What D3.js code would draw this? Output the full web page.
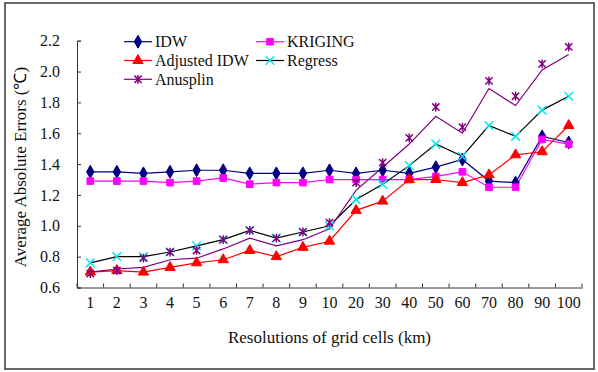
<!DOCTYPE html>
<html>
<head>
<meta charset="utf-8">
<script src="https://cdn.jsdelivr.net/npm/d3@7"></script>
<style>
  body { margin: 0; background: #fff; }
  text { font-family: "Liberation Serif", "Times New Roman", serif; fill: #111; }
</style>
</head>
<body>
<div id="chart"></div>
<script>
'use strict';

// grid resolutions (km)
const cats = ['1','2','3','4','5','6','7','8','9','10','20','30','40','50','60','70','80','90','100']

const idw      = [1.35,1.35,1.34,1.35,1.36,1.36,1.34,1.34,1.34,1.36,1.34,1.36,1.34,1.38,1.43,1.29,1.28,1.58,1.54]
const kriging  = [1.29,1.29,1.29,1.28,1.29,1.31,1.27,1.28,1.28,1.30,1.30,1.30,1.30,1.32,1.35,1.25,1.25,1.56,1.53]
const adjIdw   = [0.70,0.71,0.70,0.73,0.76,0.78,0.84,0.80,0.86,0.90,1.10,1.16,1.30,1.30,1.28,1.33,1.46,1.48,1.65]
const regress  = [0.76,0.80,0.80,0.83,0.87,0.91,0.97,0.92,0.96,1.00,1.17,1.27,1.39,1.53,1.45,1.65,1.58,1.75,1.84]
// Anusplin: markers and line do not coincide in the original figure
const anuPts   = [0.69,0.71,0.79,0.83,0.84,0.91,0.97,0.92,0.96,1.02,1.28,1.41,1.57,1.77,1.64,1.94,1.84,2.05,2.16]
const anuLine  = [0.70,0.72,0.73,0.78,0.79,0.85,0.92,0.87,0.91,0.98,1.23,1.38,1.53,1.71,1.60,1.89,1.78,2.01,2.11]

const yTicks = [0.6,0.8,1.0,1.2,1.4,1.6,1.8,2.0,2.2]

const width = 598, height = 372
const plotL = 77, plotR = 582, plotT = 40.7, plotB = 287.5

const svg = d3.select('#chart').append('svg')
    .attr('width', width)
    .attr('height', height)

// outer frame
svg.append('rect')
    .attr('x', 5).attr('y', 3)
    .attr('width', 589).attr('height', 366)
    .attr('fill', 'none')
    .attr('stroke', '#444')
    .attr('stroke-width', 1.6)

const x = d3.scaleBand().domain(cats).range([plotL, plotR]).padding(0)
const y = d3.scaleLinear().domain([0.6, 2.2]).range([plotB, plotT])

// y axis, ticks inside
const yAxis = svg.append('g')
    .attr('transform', `translate(${plotL},0)`)
    .call(d3.axisLeft(y).tickValues(yTicks).tickFormat(d3.format('.1f')).tickSize(-4).tickPadding(17))
yAxis.selectAll('text').style('font-size', '16px')
yAxis.selectAll('line, path').attr('stroke', '#333')

// x axis, labels centred in bands
const xAxis = svg.append('g')
    .attr('transform', `translate(0,${plotB})`)
    .call(d3.axisBottom(x).tickSize(0).tickPadding(9))
xAxis.selectAll('text').style('font-size', '16px')
xAxis.select('path').attr('stroke', '#333')

// x ticks sit on band boundaries
xAxis.selectAll('line.bound')
    .data(d3.range(cats.length + 1))
    .enter().append('line')
    .attr('class', 'bound')
    .attr('x1', i => plotL + i * x.step())
    .attr('x2', i => plotL + i * x.step())
    .attr('y1', 0).attr('y2', -4)
    .attr('stroke', '#333')

svg.append('text')
    .attr('x', (plotL + plotR) / 2)
    .attr('y', 343)
    .attr('text-anchor', 'middle')
    .style('font-size', '17px')
    .text('Resolutions of grid cells (km)')

svg.append('text')
    .attr('transform', 'translate(26,167) rotate(-90)')
    .attr('text-anchor', 'middle')
    .style('font-size', '17px')
    .text('Average Absolute Errors (℃)')

// custom star marker: X plus vertical bar
const symbolStar = {
  draw(ctx, size) {
    const r = Math.sqrt(size) * 0.55
    ctx.moveTo(-r, -r); ctx.lineTo(r, r)
    ctx.moveTo(-r, r); ctx.lineTo(r, -r)
    ctx.moveTo(0, -r * 1.2); ctx.lineTo(0, r * 1.2)
  }
}

const series = [
  { name: 'IDW',          line: idw,     pts: idw,     lc: '#000080', mc: '#000080', sym: d3.symbolDiamond,  size: 48, fill: true },
  { name: 'KRIGING',      line: kriging, pts: kriging, lc: '#ff00ff', mc: '#ff00ff', sym: d3.symbolSquare,   size: 44, fill: true },
  { name: 'Adjusted IDW', line: adjIdw,  pts: adjIdw,  lc: '#ff0000', mc: '#ff0000', sym: d3.symbolTriangle, size: 46, fill: true },
  { name: 'Regress',      line: regress, pts: regress, lc: '#000000', mc: '#00e8f0', sym: d3.symbolTimes,    size: 50, fill: false },
  { name: 'Anusplin',     line: anuLine, pts: anuPts,  lc: '#800080', mc: '#800080', sym: symbolStar,        size: 44, fill: false }
]

const lineGen = d3.line()
    .x((d, i) => x(cats[i]) + x.bandwidth() / 2)
    .y(d => y(d))

const marks = svg.append('g')

series.forEach(s => {
  marks.append('path')
      .datum(s.line)
      .attr('d', lineGen)
      .attr('fill', 'none')
      .attr('stroke', s.lc)
      .attr('stroke-width', 1.2)
})

series.forEach(s => {
  marks.append('g').selectAll('path')
      .data(s.pts)
      .enter().append('path')
      .attr('transform', (d, i) => `translate(${x(cats[i]) + x.bandwidth() / 2},${y(d)})`)
      .attr('d', d3.symbol().type(s.sym).size(s.size))
      .attr('fill', s.fill ? s.mc : 'none')
      .attr('stroke', s.mc)
      .attr('stroke-width', s.fill ? 1 : 1.5)
})

// legend, two columns
const legendPos = [
  { x: 124, y: 41.7 }, { x: 256, y: 41.7 },
  { x: 124, y: 60.5 }, { x: 256, y: 60.5 },
  { x: 124, y: 79.3 }
]

const legend = svg.append('g')
series.forEach((s, i) => {
  const p = legendPos[i]
  const g = legend.append('g').attr('transform', `translate(${p.x},${p.y})`)
  g.append('line')
      .attr('x1', 0).attr('x2', 28)
      .attr('stroke', s.lc)
      .attr('stroke-width', 1.2)
  g.append('path')
      .attr('transform', 'translate(14,0)')
      .attr('d', d3.symbol().type(s.sym).size(s.size))
      .attr('fill', s.fill ? s.mc : 'none')
      .attr('stroke', s.mc)
      .attr('stroke-width', s.fill ? 1 : 1.5)
  g.append('text')
      .attr('x', 31)
      .attr('y', 5.5)
      .style('font-size', '16px')
      .text(s.name)
})
</script>
</body>
</html>
